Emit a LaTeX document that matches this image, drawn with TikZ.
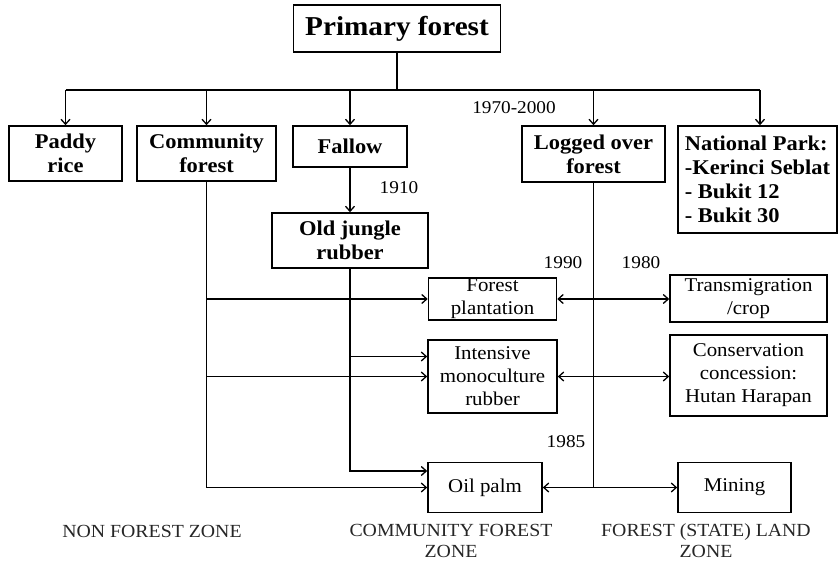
\documentclass[tikz,border=0pt]{standalone}
\usepackage{fontspec}
\setmainfont{Liberation Serif}[FakeStretch=1.07]
\usetikzlibrary{arrows.meta}
\begin{document}
\begin{tikzpicture}[x=1pt,y=-1pt,
  box/.style={draw, line width=1.6pt, inner sep=0pt, align=center},
  bbox/.style={box, font=\bfseries\fontsize{21}{24}\selectfont},
  rbox/.style={box, font=\fontsize{19.5}{23}\selectfont},
  yr/.style={font=\fontsize{18}{20}\selectfont, inner sep=0pt},
  zone/.style={font=\fontsize{18.5}{21}\selectfont, inner sep=0pt, align=center, text=black!85},
  ln/.style={line width=1.4pt},
  arr/.style={ln, -{Straight Barb[length=5pt,width=9pt,line width=1.3pt]}},
  arrr/.style={ln, {Straight Barb[length=5pt,width=9pt,line width=1.3pt]}-{Straight Barb[length=5pt,width=9pt,line width=1.3pt]}}
]
\useasboundingbox (0,0) rectangle (839,565);

\node[box, font=\bfseries\fontsize{27.3}{30}\selectfont, minimum width=207pt, minimum height=47pt] (pf) at (397,28.5) {Primary forest};

\node[bbox, minimum width=113pt, minimum height=55pt] (paddy) at (65.5,153.5) {Paddy\\rice};
\node[bbox, minimum width=139pt, minimum height=55pt] (comm) at (206.5,153.5) {Community\\forest};
\node[bbox, minimum width=114pt, minimum height=41pt] (fallow) at (350,146.5) {Fallow};
\node[bbox, minimum width=143pt, minimum height=56pt] (logged) at (593.5,154) {Logged over\\forest};
\node[bbox, minimum width=159pt, minimum height=107pt, align=left] (np) at (757.5,179.5) {National Park:\\-Kerinci Seblat\\- Bukit 12\\- Bukit 30};
\node[bbox, minimum width=156pt, minimum height=55pt] (ojr) at (350,240.5) {Old jungle\\rubber};

\node[rbox, minimum width=128pt, minimum height=42pt] (fp) at (492.5,299) {Forest\\plantation};
\node[rbox, minimum width=157pt, minimum height=47pt] (trans) at (748.5,298.5) {Transmigration\\/crop};
\node[rbox, minimum width=129pt, minimum height=73pt] (imr) at (492.5,376.5) {Intensive\\monoculture\\rubber};
\node[rbox, minimum width=157pt, minimum height=81pt] (cons) at (748.5,375.5) {Conservation\\concession:\\Hutan Harapan};
\node[rbox, minimum width=114pt, minimum height=50pt] (op) at (485,487.5) {Oil palm};
\node[rbox, minimum width=113pt, minimum height=50pt] (mining) at (734.5,487.5) {Mining};

\node[yr] (y1) at (514,108) {1970-2000};
\node[yr] (y2) at (399,188) {1910};
\node[yr] (y3) at (563,263) {1990};
\node[yr] (y4) at (641,263) {1980};
\node[yr] (y5) at (566,442) {1985};

\node[zone] (z1) at (152,531) {NON FOREST ZONE};
\node[zone] (z2) at (451,541) {COMMUNITY FOREST\\ZONE};
\node[zone] (z3) at (706,541) {FOREST (STATE) LAND\\ZONE};

% top bus
\coordinate (bus) at (397,90);
\coordinate (npin) at ([xshift=2.5pt]np.north);
\draw[ln] (pf.south) -- (bus);
\draw[ln] (bus -| paddy.north) -- (bus -| npin);
\draw[arr] (bus -| paddy.north) -- (paddy.north);
\draw[arr] (bus -| comm.north) -- (comm.north);
\draw[arr] (bus -| fallow.north) -- (fallow.north);
\draw[arr] (bus -| logged.north) -- (logged.north);
\draw[arr] (bus -| npin) -- (npin);

% fallow to old jungle rubber
\draw[arr] (fallow.south) -- (ojr.north);

% community forest line
\draw[arr] (comm.south) |- (op.west);
\draw[arr] (comm.south |- fp.west) -- (fp.west);
\draw[arr] (comm.south |- imr.west) -- (imr.west);

% old jungle rubber line
\coordinate (imrA) at ([yshift=20pt]imr.west);
\coordinate (opA) at ([yshift=16.5pt]op.west);
\draw[arr] (ojr.south) |- (opA);
\draw[arr] (ojr.south |- imrA) -- (imrA);

% logged over line
\draw[ln] (logged.south) -- (logged.south |- op.east);
\draw[arrr] (fp.east) -- (fp.east -| trans.west);
\draw[arrr] (imr.east) -- (imr.east -| cons.west);
\draw[arrr] (op.east) -- (mining.west);
\end{tikzpicture}
\end{document}
